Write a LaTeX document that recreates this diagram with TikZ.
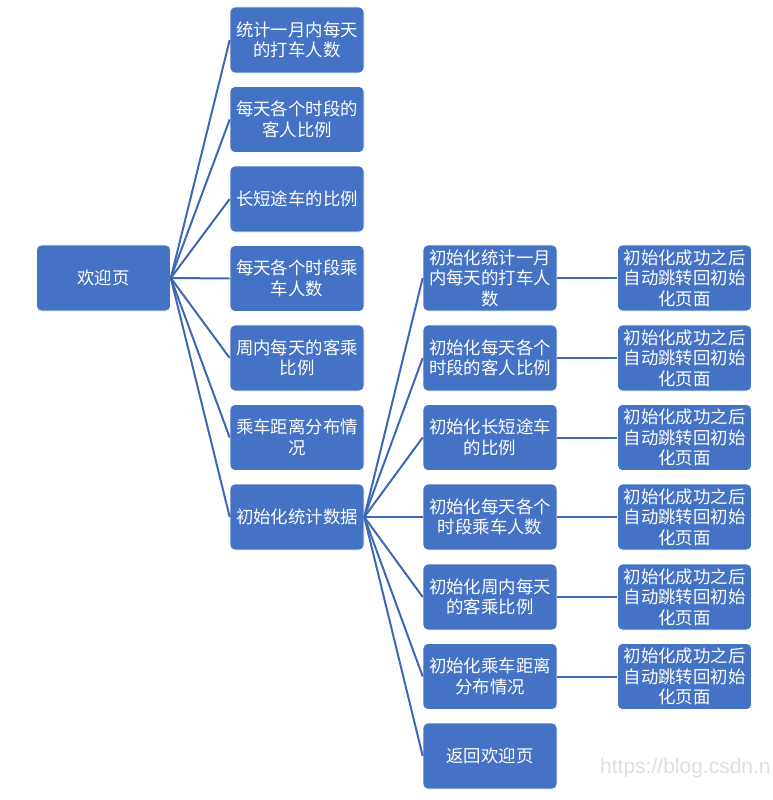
\documentclass[tikz,border=0pt]{standalone}
\usepackage{fontspec}
\newfontfamily\cjk{Noto Sans CJK SC}
\newfontfamily\wmfont{Liberation Sans}
\definecolor{boxblue}{RGB}{68,114,196}
\definecolor{lineblue}{RGB}{62,104,180}
\definecolor{wmgray}{RGB}{222,222,222}
\begin{document}
\begin{tikzpicture}[x=1pt,y=-1pt,
  box/.style={draw=white, line width=0.6pt, fill=boxblue, rounded corners=5pt,
    minimum width=134pt, minimum height=66pt, inner sep=0pt, align=center,
    text=white, font=\cjk\fontsize{17.4}{20.5}\selectfont},
  link/.style={draw=lineblue, line width=2pt}]
\useasboundingbox (0,0) rectangle (773,800);
% root
\node[box] (r) at (103.5,278) {欢迎页};
% level 1
\node[box] (a1) at (297,40) {统计一月内每天\\的打车人数};
\node[box] (a2) at (297,119.5) {每天各个时段的\\客人比例};
\node[box] (a3) at (297,199) {长短途车的比例};
\node[box] (a4) at (297,278.5) {每天各个时段乘\\车人数};
\node[box] (a5) at (297,358) {周内每天的客乘\\比例};
\node[box] (a6) at (297,437.5) {乘车距离分布情\\况};
\node[box] (a7) at (297,517) {初始化统计数据};
% level 2
\node[box] (b1) at (490,278) {初始化统计一月\\内每天的打车人\\数};
\node[box] (b2) at (490,358) {初始化每天各个\\时段的客人比例};
\node[box] (b3) at (490,437.5) {初始化长短途车\\的比例};
\node[box] (b4) at (490,517) {初始化每天各个\\时段乘车人数};
\node[box] (b5) at (490,597) {初始化周内每天\\的客乘比例};
\node[box] (b6) at (490,676.5) {初始化乘车距离\\分布情况};
\node[box] (b7) at (490,756) {返回欢迎页};
% level 3
\foreach \i/\y in {1/278,2/358,3/437.5,4/517,5/597,6/676.5}{
  \node[box] (c\i) at (684.5,\y) {初始化成功之后\\自动跳转回初始\\化页面};
}
% connectors
\foreach \i in {1,...,7}{
  \draw[link] (r.east) -- (a\i.west);
  \draw[link] (a7.east) -- (b\i.west);
}
\foreach \i in {1,...,6}{
  \draw[link] (b\i.east) -- (c\i.west);
}
% watermark
\node[anchor=west, text=wmgray, font=\wmfont\fontsize{21}{24}\selectfont, inner sep=0pt] (wm) at (600,768) {https://blog.csdn.n};
\end{tikzpicture}
\end{document}
